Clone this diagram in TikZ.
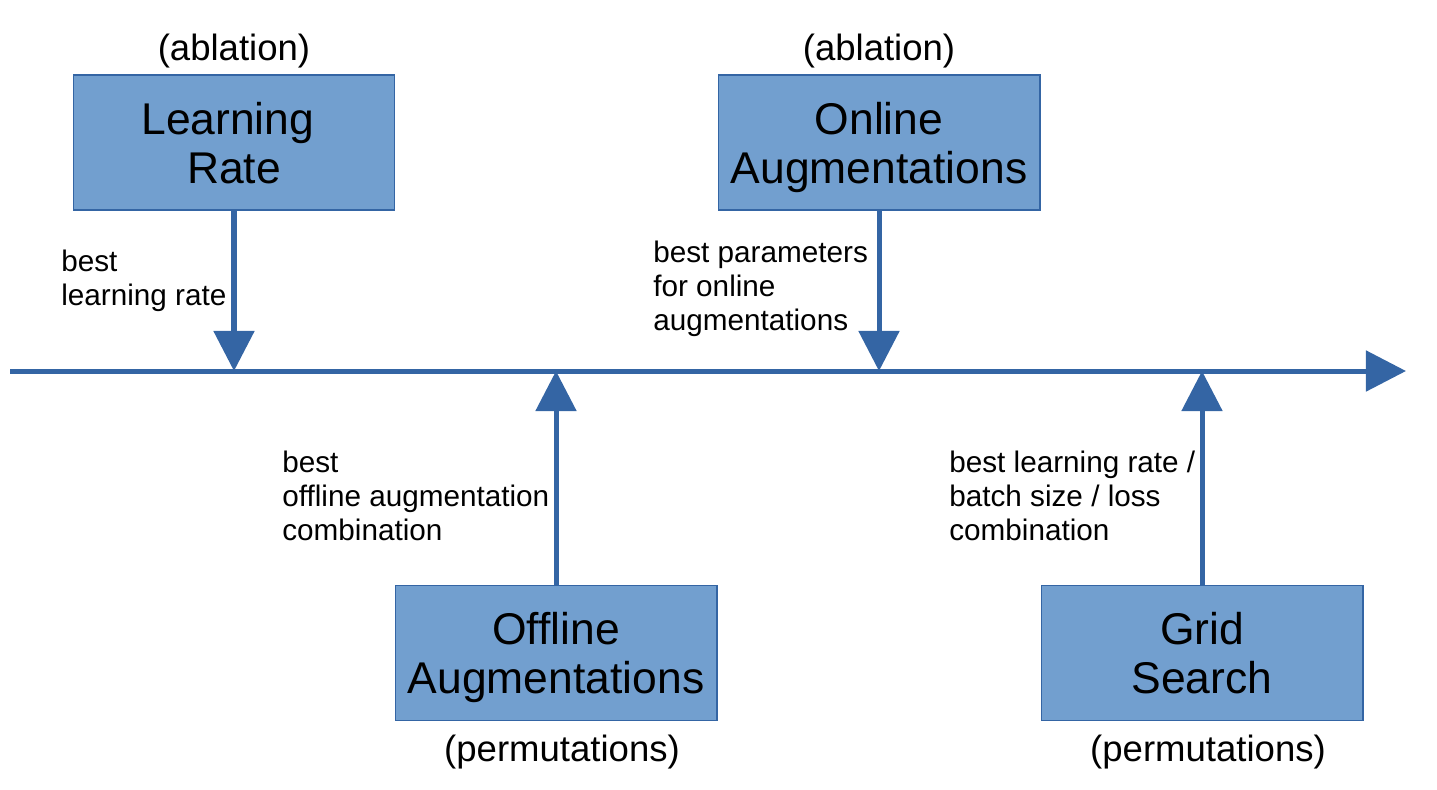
\documentclass[tikz,border=0pt]{standalone}
\usepackage{fontspec}
\setmainfont{Liberation Sans}
\usetikzlibrary{positioning,arrows.meta}
\definecolor{stagefill}{HTML}{729FCF}
\definecolor{stageline}{HTML}{3465A4}
\tikzset{
  stage/.style={draw=stageline, line width=0.6pt, fill=stagefill,
    minimum width=6.44cm, minimum height=2.7cm, inner sep=0pt,
    align=center, text depth=0pt, font=\fontsize{25.3}{27.9}\selectfont},
  flow/.style={draw=stageline, line width=2.85pt,
    -{Triangle[width=22.8pt,length=22.8pt]}},
  note/.style={inner sep=0pt, font=\fontsize{20.8}{24}\selectfont},
  result/.style={anchor=north west, align=left, inner sep=0pt,
    font=\fontsize{16.9}{19.35}\selectfont}
}
\begin{document}
\begin{tikzpicture}[x=0.02cm, y=-0.02cm]
  \useasboundingbox (0,0) rectangle (1437,789);
  \coordinate (t0) at (10,371);
  \coordinate (t1) at (1406,371);
  \node[stage] (lr) at (234,142.5) {Learning\hspace*{0.278em}\\Rate};
  \node[stage] (online) at (879,142.5) {Online\\Augmentations};
  \node[stage] (offline) at (556,653) {Offline\\Augmentations};
  \node[stage] (grid) at (1202,653) {Grid\\Search};
  \draw[flow] (t0) -- (t1);
  \draw[flow] (lr) -- (lr |- t0);
  \draw[flow] (online) -- (online |- t0);
  \draw[flow] (offline) -- (offline |- t0);
  \draw[flow] (grid) -- (grid |- t0);
  \node[note, above=0.12cm of lr] (lrnote) {(ablation)};
  \node[note, above=0.12cm of online] (onlinenote) {(ablation)};
  \node[note, below=0.28cm of offline, xshift=0.12cm] (offlinenote) {(permutations)};
  \node[note, below=0.28cm of grid, xshift=0.12cm] (gridnote) {(permutations)};
  \node[result] (lrbest) at (61,250) {best\\learning rate};
  \node[result] (onlinebest) at (653,241) {best parameters\\for online\\augmentations};
  \node[result] (offlinebest) at (282,451) {best\\offline augmentation\\combination};
  \node[result] (gridbest) at (949,451) {best learning rate /\\batch size / loss\\combination};
\end{tikzpicture}
\end{document}
